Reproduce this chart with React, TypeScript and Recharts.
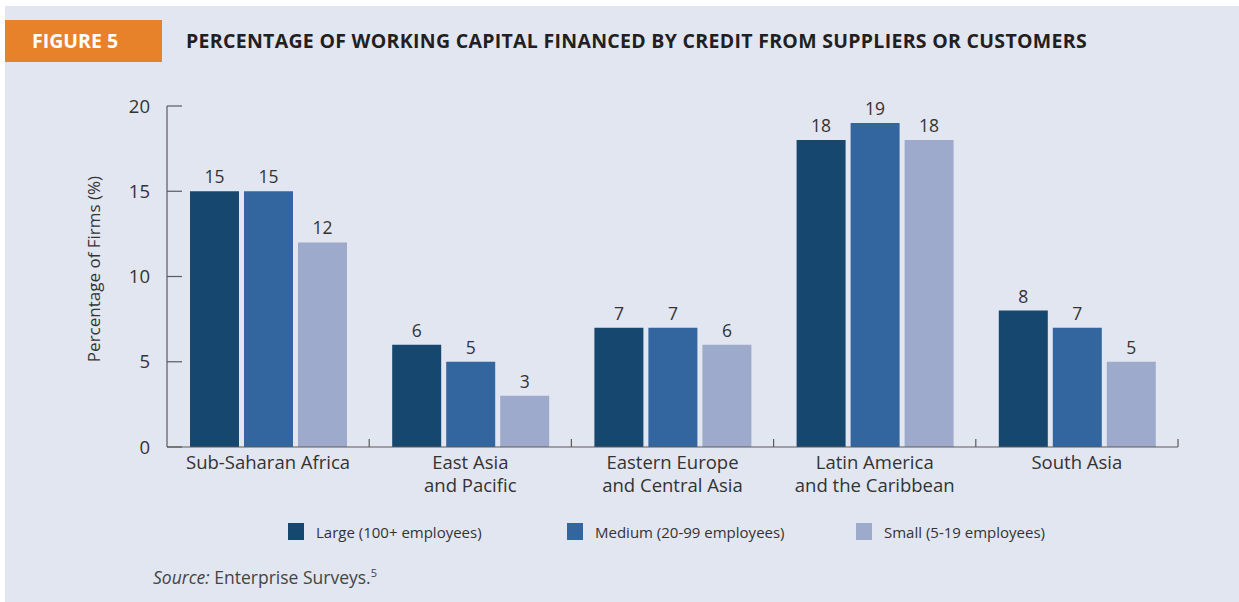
import * as React from 'react'
import { BarChart, Bar, XAxis, YAxis, LabelList } from 'recharts'

const categories = [
  'Sub-Saharan Africa',
  'East Asia\nand Pacific',
  'Eastern Europe\nand Central Asia',
  'Latin America\nand the Caribbean',
  'South Asia',
]
const largeValues = [15, 6, 7, 18, 8]
const mediumValues = [15, 5, 7, 19, 7]
const smallValues = [12, 3, 6, 18, 5]
const yTicks = [0, 5, 10, 15, 20]

const seriesMeta = [
  { key: 'large', label: 'Large (100+ employees)', color: '#16476f' },
  { key: 'medium', label: 'Medium (20-99 employees)', color: '#33669e' },
  { key: 'small', label: 'Small (5-19 employees)', color: '#9eaacb' },
]

const data = categories.map((c, i) => ({
  name: c,
  large: largeValues[i],
  medium: mediumValues[i],
  small: smallValues[i],
}))

const FONT = '"Open Sans", "Noto Sans", sans-serif'
const TEXT = '#333333'
const AXIS = '#5a5a5a'
const BG = '#e2e6f1'

// plot box in page px
const PLOT_LEFT = 167
const PLOT_RIGHT = 1178
const PLOT_TOP = 106
const PLOT_BOTTOM = 447
const Y_AXIS_W = 60
const X_AXIS_H = 60
const BAND = (PLOT_RIGHT - PLOT_LEFT) / categories.length

function YTick(props: any) {
  const { x, y, payload } = props
  const axisX = x + 17
  return (
    <g>
      <line x1={axisX} x2={axisX + 15} y1={y} y2={y} stroke={AXIS} strokeWidth={1.2} />
      <text x={x} y={y} dy={6.5} textAnchor="end" fill={TEXT} fontSize={18.5} fontFamily={FONT}>
        {payload.value}
      </text>
    </g>
  )
}

function XTick(props: any) {
  const { x, y, payload } = props
  const lines = String(payload.value).split('\n')
  const boundary = x + BAND / 2
  const axisY = y - 2
  return (
    <g>
      <line x1={boundary} x2={boundary} y1={axisY} y2={axisY - 8} stroke={AXIS} strokeWidth={1.2} />
      {lines.map((l, i) => (
        <text key={i} x={x} y={y + 20} dy={i * 23} textAnchor="middle" fill={TEXT} fontSize={18.5} fontFamily={FONT}>
          {l}
        </text>
      ))}
    </g>
  )
}

export default function App() {
  return (
    <div style={{ position: 'absolute', left: 0, top: 0, width: 1239, height: 602, background: '#ffffff', fontFamily: FONT }}>
      <div style={{ position: 'absolute', left: 5, top: 6, right: 0, bottom: 0, background: BG }} />
      <div
        style={{
          position: 'absolute', left: 5, top: 20, width: 157, height: 42, background: '#e8822a',
          color: '#ffffff', fontWeight: 700, fontSize: 19.5, lineHeight: '42px', paddingLeft: 27, boxSizing: 'border-box',
        }}
      >
        FIGURE 5
      </div>
      <div
        style={{
          position: 'absolute', left: 186, top: 20, height: 42, lineHeight: '42px', color: '#231f20',
          fontWeight: 700, fontSize: 19.5, letterSpacing: 0.3, whiteSpace: 'nowrap',
        }}
      >
        PERCENTAGE OF WORKING CAPITAL FINANCED BY CREDIT FROM SUPPLIERS OR CUSTOMERS
      </div>

      <div style={{ position: 'absolute', left: 0, top: 0 }}>
        <BarChart
          width={1239}
          height={602}
          data={data}
          margin={{ top: PLOT_TOP, right: 1239 - PLOT_RIGHT, left: PLOT_LEFT - Y_AXIS_W, bottom: 602 - PLOT_BOTTOM - X_AXIS_H }}
          barSize={49}
          barGap={5}
        >
          <XAxis
            dataKey="name"
            height={X_AXIS_H}
            interval={0}
            tickLine={false}
            tickSize={0}
            tickMargin={2}
            axisLine={{ stroke: AXIS, strokeWidth: 1.2 }}
            tick={<XTick />}
          />
          <YAxis
            width={Y_AXIS_W}
            domain={[0, 20]}
            ticks={yTicks}
            interval={0}
            tickLine={false}
            tickSize={0}
            tickMargin={17}
            axisLine={{ stroke: AXIS, strokeWidth: 1.2 }}
            tick={<YTick />}
          />
          {seriesMeta.map((s) => (
            <Bar key={s.key} dataKey={s.key} fill={s.color} isAnimationActive={false}>
              <LabelList dataKey={s.key} position="top" offset={8} fill={TEXT} fontSize={17.5} fontFamily={FONT} />
            </Bar>
          ))}
        </BarChart>
      </div>

      <div
        style={{
          position: 'absolute', left: 93, top: 269, transform: 'translate(-50%, -50%) rotate(-90deg)',
          whiteSpace: 'nowrap', fontSize: 17, color: TEXT,
        }}
      >
        Percentage of Firms (%)
      </div>

      {seriesMeta.map((s, i) => (
        <div
          key={s.key}
          style={{ position: 'absolute', left: [288, 567, 856][i], top: 523, display: 'flex', alignItems: 'center', height: 17 }}
        >
          <div style={{ width: 16, height: 17, background: s.color }} />
          <div style={{ marginLeft: 12, fontSize: 15, color: TEXT, whiteSpace: 'nowrap' }}>{s.label}</div>
        </div>
      ))}

      <div style={{ position: 'absolute', left: 153, top: 565, fontSize: 17.5, color: '#444444', whiteSpace: 'nowrap' }}>
        <i>Source:</i> Enterprise Surveys.<sup style={{ fontSize: 11 }}>5</sup>
      </div>
    </div>
  )
}
